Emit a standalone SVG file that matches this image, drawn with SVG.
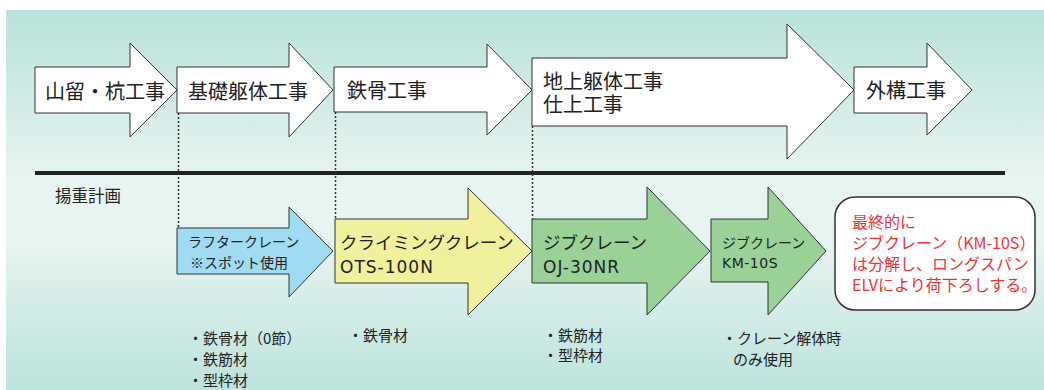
<svg xmlns="http://www.w3.org/2000/svg" width="1044" height="390" viewBox="0 0 1044 390">
<defs>
<linearGradient id="bg" x1="0" y1="0" x2="0" y2="1">
<stop offset="0" stop-color="#b9e2da"/>
<stop offset="0.45" stop-color="#e8f4f1"/>
<stop offset="0.6" stop-color="#e8f4f1"/>
<stop offset="1" stop-color="#bce3dc"/>
</linearGradient>
<style>
.ar{stroke:#333;stroke-width:1;stroke-linejoin:miter}
.w{fill:#fff}
.c{fill:#9fdbf2}
.y{fill:#f1f09c}
.g{fill:#99d197}
.t{font-family:"Noto Sans CJK JP","Noto Sans",sans-serif;fill:#222}
.l{font-family:"DejaVu Sans","Noto Sans CJK JP",sans-serif;fill:#222;letter-spacing:1px}
.big{font-size:20px}
.mid{font-size:17.5px}
.sm{font-size:14px}
.nt{font-size:15px}
.red{font-family:"Noto Sans CJK JP","Noto Sans",sans-serif;fill:#ee3333;font-size:16px}
.dot{stroke:#333;stroke-width:1.5;stroke-dasharray:2,2;fill:none}
</style>
</defs>
<rect x="6" y="10" width="1038" height="380" fill="url(#bg)"/>

<g id="connectors">
<line x1="35" y1="173" x2="1005" y2="173" stroke="#222" stroke-width="4"/>
<line class="dot" x1="178.5" y1="113" x2="178.5" y2="228"/>
<line class="dot" x1="335.5" y1="112" x2="335.5" y2="219"/>
<line class="dot" x1="532.5" y1="126" x2="532.5" y2="219"/>
</g>

<g id="n-yamadome">
<polygon class="ar w" points="35,67 130,67 130,43 177,90 130,137 130,113 35,113"/>
<text class="t big" x="45" y="99">山留・杭工事</text>
</g>
<g id="n-kiso">
<polygon class="ar w" points="177,67 289,67 289,43 333,90 289,137 289,113 177,113"/>
<text class="t big" x="188" y="99">基礎躯体工事</text>
</g>
<g id="n-tekkotsu">
<polygon class="ar w" points="334,67 487,67 487,44 532,90 487,135 487,112 334,112"/>
<text class="t big" x="347" y="98">鉄骨工事</text>
</g>
<g id="n-chijo">
<polygon class="ar w" points="532,58 787,58 787,24 854,90 787,159 787,126 532,126"/>
<text class="t big" x="543" y="89">地上躯体工事</text>
<text class="t big" x="543" y="112">仕上工事</text>
</g>
<g id="n-gaiko">
<polygon class="ar w" points="854,67 927,67 927,43 972,90 927,135 927,113 854,113"/>
<text class="t big" x="866" y="98">外構工事</text>
</g>

<g id="label-yoju">
<text class="t" font-size="16.5" x="55" y="202">揚重計画</text>
</g>

<g id="n-rafter">
<polygon class="ar c" points="177,228 289,228 289,207 333,251 289,297 289,274 177,274"/>
<text class="t sm" x="188" y="247">ラフタークレーン</text>
<text class="t sm" x="190" y="268">※スポット使用</text>
</g>
<g id="n-climbing">
<polygon class="ar y" points="335,219 468,219 468,188 532,251 468,315 468,283 335,283"/>
<text class="t mid" x="340" y="249">クライミングクレーン</text>
<text class="l" font-size="17" x="340" y="273">OTS-100N</text>
</g>
<g id="n-jib1">
<polygon class="ar g" points="532,219 647,219 647,187 710,251 647,315 647,283 532,283"/>
<text class="t mid" x="543" y="249">ジブクレーン</text>
<text class="l" font-size="17" x="543" y="273">OJ-30NR</text>
</g>
<g id="n-jib2">
<polygon class="ar g" points="711,219 768,219 768,187 826,251 768,315 768,282 711,282"/>
<text class="t sm" x="722" y="248">ジブクレーン</text>
<text class="l" font-size="14" style="letter-spacing:0.5px" x="722" y="268">KM-10S</text>
</g>
<g id="n-note">
<rect x="835" y="197" width="200" height="113" rx="20" ry="20" fill="#fff" stroke="#333" stroke-width="1.5"/>
<text class="red" x="852" y="228">最終的に</text>
<text class="red" x="852" y="249">ジブクレーン（KM-10S）</text>
<text class="red" x="852" y="270">は分解し、ロングスパン</text>
<text class="red" x="852" y="291">ELVにより荷下ろしする。</text>
</g>

<g id="notes">
<text class="t nt" x="188" y="344">・鉄骨材（0節）</text>
<text class="t nt" x="188" y="365">・鉄筋材</text>
<text class="t nt" x="188" y="386">・型枠材</text>
<text class="t nt" x="348" y="341">・鉄骨材</text>
<text class="t nt" x="543" y="341">・鉄筋材</text>
<text class="t nt" x="543" y="361">・型枠材</text>
<text class="t nt" x="722" y="344">・クレーン解体時</text>
<text class="t nt" x="733" y="365">のみ使用</text>
</g>
</svg>
